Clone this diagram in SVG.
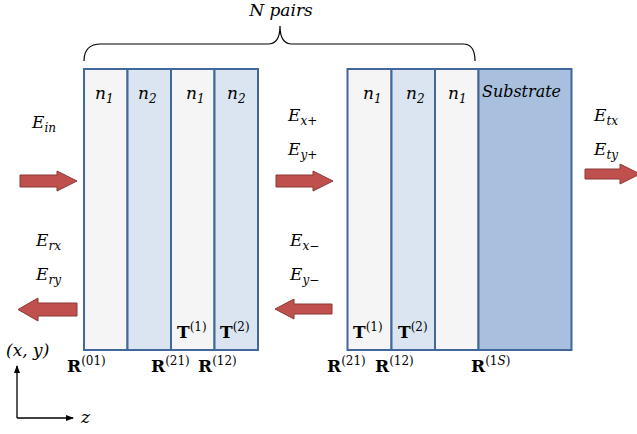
<svg xmlns="http://www.w3.org/2000/svg" width="637" height="434" viewBox="0 0 637 434">
<style>
.l1{fill:#f5f5f5;stroke:#41679b;stroke-width:2}
.l2{fill:#dbe5f1;stroke:#41679b;stroke-width:2}
.ls{fill:#a8c0de;stroke:#41679b;stroke-width:2}
.arr{fill:#c0504d;stroke:#8c3836;stroke-width:1}
.m{font-family:"DejaVu Serif","Liberation Serif",serif;font-style:italic;font-size:17px;fill:#000}
.s{font-size:12px}
.b{font-family:"DejaVu Serif","Liberation Serif",serif;font-weight:bold;font-size:17px;fill:#000}
.sup{font-family:"DejaVu Serif","Liberation Serif",serif;font-weight:normal;font-size:12px}
.ax{stroke:#000;stroke-width:1.3;fill:none}
</style>
<defs>
<marker id="ah" markerWidth="8" markerHeight="8" refX="7" refY="4" orient="auto" markerUnits="userSpaceOnUse">
<path d="M0,1 L8,4 L0,7 Z" fill="#000"/>
</marker>
</defs>
<rect width="637" height="434" fill="#fff"/>

<g id="brace">
<path d="M84,61 Q84,44 101,44 L268,44 Q280,44 280,26 Q280,44 292,44 L463,44 Q475,44 475,61" fill="none" stroke="#000" stroke-width="1.2"/>
<text class="m" x="281" y="16" text-anchor="middle">N pairs</text>
</g>

<g id="stack1">
<rect class="l1" x="84" y="69" width="43.5" height="281"/>
<rect class="l2" x="127.5" y="69" width="43.5" height="281"/>
<rect class="l1" x="171" y="69" width="43.5" height="281"/>
<rect class="l2" x="214.5" y="69" width="43.5" height="281"/>
<text class="m" x="95" y="99">n<tspan class="s" dy="4">1</tspan></text>
<text class="m" x="138" y="99">n<tspan class="s" dy="4">2</tspan></text>
<text class="m" x="186" y="99">n<tspan class="s" dy="4">1</tspan></text>
<text class="m" x="227" y="99">n<tspan class="s" dy="4">2</tspan></text>
<text class="b" x="177" y="338">T<tspan class="sup" dy="-7">(1)</tspan></text>
<text class="b" x="220" y="338">T<tspan class="sup" dy="-7">(2)</tspan></text>
</g>

<g id="stack2">
<rect class="l1" x="347.5" y="69" width="44" height="281"/>
<rect class="l2" x="391.5" y="69" width="43.5" height="281"/>
<rect class="l1" x="435" y="69" width="43.5" height="281"/>
<rect class="ls" x="478.5" y="69" width="93" height="281"/>
<text class="m" x="363" y="99">n<tspan class="s" dy="4">1</tspan></text>
<text class="m" x="406" y="99">n<tspan class="s" dy="4">2</tspan></text>
<text class="m" x="448" y="99">n<tspan class="s" dy="4">1</tspan></text>
<text class="m" x="482" y="97" textLength="79" lengthAdjust="spacingAndGlyphs">Substrate</text>
<text class="b" x="353" y="338">T<tspan class="sup" dy="-7">(1)</tspan></text>
<text class="b" x="398" y="338">T<tspan class="sup" dy="-7">(2)</tspan></text>
</g>

<g id="interfaces">
<text class="b" x="67" y="372">R<tspan class="sup" dy="-7">(01)</tspan></text>
<text class="b" x="151" y="372">R<tspan class="sup" dy="-7">(21)</tspan></text>
<text class="b" x="198" y="372">R<tspan class="sup" dy="-7">(12)</tspan></text>
<text class="b" x="327" y="372">R<tspan class="sup" dy="-7">(21)</tspan></text>
<text class="b" x="375" y="372">R<tspan class="sup" dy="-7">(12)</tspan></text>
<text class="b" x="471" y="372">R<tspan class="sup" dy="-7">(1<tspan font-style="italic">S</tspan>)</tspan></text>
</g>

<g id="fields">
<text class="m" x="32" y="128">E<tspan class="s" dy="4">in</tspan></text>
<text class="m" x="36" y="246">E<tspan class="s" dy="4">rx</tspan></text>
<text class="m" x="36" y="280">E<tspan class="s" dy="4">ry</tspan></text>
<text class="m" x="288" y="121">E<tspan class="s" dy="4">x+</tspan></text>
<text class="m" x="288" y="155">E<tspan class="s" dy="4">y+</tspan></text>
<text class="m" x="290" y="246">E<tspan class="s" dy="4">x−</tspan></text>
<text class="m" x="290" y="280">E<tspan class="s" dy="4">y−</tspan></text>
<text class="m" x="594" y="121">E<tspan class="s" dy="4">tx</tspan></text>
<text class="m" x="594" y="155">E<tspan class="s" dy="4">ty</tspan></text>
</g>

<g id="connectors">
<path class="arr" d="M20,175 L57,175 L57,171 L77,181 L57,191 L57,187 L20,187 Z"/>
<path class="arr" d="M276,175 L313,175 L313,171 L333,181 L313,191 L313,187 L276,187 Z"/>
<path class="arr" d="M585,169 L620,169 L620,164 L640,174 L620,184 L620,179 L585,179 Z"/>
<path class="arr" d="M77,303 L38,303 L38,298 L18,309.5 L38,321 L38,316 L77,316 Z"/>
<path class="arr" d="M332,304 L294,304 L294,299 L275,309 L294,319 L294,314 L332,314 Z"/>
</g>

<g id="axes">
<path class="ax" d="M17,418 L17,366" marker-end="url(#ah)"/>
<path class="ax" d="M17,418 L73,418" marker-end="url(#ah)"/>
<text class="m" x="6" y="356" font-style="normal">(<tspan font-style="italic">x</tspan>, <tspan font-style="italic">y</tspan>)</text>
<text class="m" x="81" y="423">z</text>
</g>
</svg>
